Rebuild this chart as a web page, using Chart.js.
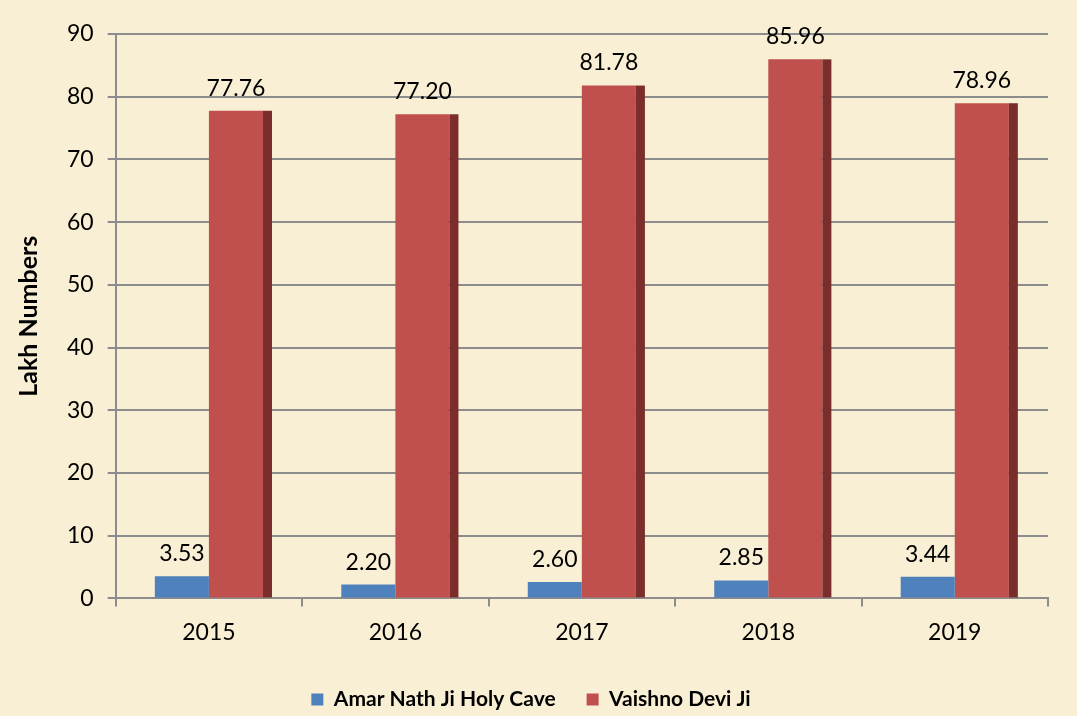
<!DOCTYPE html>
<html>
<head>
<meta charset="utf-8">
<script src="https://cdn.jsdelivr.net/npm/chart.js@4"></script>
<style>
  html, body { margin: 0; padding: 0; background: #f9efd4; }
  #wrap { width: 1077px; height: 716px; }
</style>
</head>
<body>
<div id="wrap"><canvas id="pilgrims"></canvas></div>
<script>
const years = ['2015', '2016', '2017', '2018', '2019'];
const amarNath = [3.53, 2.20, 2.60, 2.85, 3.44];
const vaishnoDevi = [77.76, 77.20, 81.78, 85.96, 78.96];
const yTicks = [0, 10, 20, 30, 40, 50, 60, 70, 80, 90];

const FONT = 'Lato, "Open Sans", sans-serif';

// dark right-hand face so the bars look like the old 3D excel columns,
// plus the value labels on top
const barExtras = {
  id: 'barExtras',
  afterDatasetsDraw(chart) {
    const ctx = chart.ctx;
    const redMeta = chart.getDatasetMeta(1);
    redMeta.data.forEach((bar) => {
      const right = bar.x + bar.width / 2;
      ctx.save();
      ctx.fillStyle = '#7b2d2c';
      ctx.fillRect(right, bar.y, 9, bar.base - bar.y);
      ctx.restore();
    });
    chart.data.datasets.forEach((ds, i) => {
      const meta = chart.getDatasetMeta(i);
      meta.data.forEach((bar, j) => {
        ctx.save();
        ctx.fillStyle = '#000';
        ctx.font = '23px ' + FONT;
        ctx.textAlign = 'center';
        ctx.textBaseline = 'bottom';
        ctx.fillText(ds.data[j].toFixed(2), bar.x, bar.y - 11);
        ctx.restore();
      });
    });
  }
};

new Chart(document.getElementById('pilgrims'), {
  type: 'bar',
  data: {
    labels: years,
    datasets: [{
      label: 'Amar Nath Ji Holy Cave',
      data: amarNath,
      backgroundColor: '#4f81bd'
    }, {
      label: 'Vaishno Devi Ji',
      data: vaishnoDevi,
      backgroundColor: '#c0504d'
    }]
  },
  options: {
    responsive: true,
    maintainAspectRatio: false,
    animation: false,
    layout: { padding: { left: 14, right: 29, top: 34, bottom: -4 } },
    datasets: {
      bar: { categoryPercentage: 0.58, barPercentage: 1 }
    },
    scales: {
      x: {
        grid: {
          offset: true,
          drawOnChartArea: false,
          drawTicks: true,
          tickLength: 8,
          color: '#8c8c8c',
          lineWidth: 2
        },
        border: { color: '#8c8c8c', width: 2 },
        ticks: { color: '#000', font: { family: FONT, size: 23 }, padding: 12 }
      },
      y: {
        min: 0,
        max: 90,
        afterBuildTicks(axis) {
          axis.ticks = yTicks.map(v => ({ value: v }));
        },
        grid: { color: '#8c8c8c', lineWidth: 2, tickLength: 8 },
        border: { color: '#8c8c8c', width: 2 },
        ticks: { color: '#000', font: { family: FONT, size: 23 }, padding: 14 },
        title: {
          display: true,
          text: 'Lakh Numbers',
          color: '#000',
          font: { family: FONT, size: 25, weight: 'bold' },
          padding: { top: 0, bottom: 9 }
        }
      }
    },
    plugins: {
      legend: {
        position: 'bottom',
        labels: {
          color: '#000',
          font: { family: FONT, size: 21, weight: 'bold' },
          boxWidth: 12,
          boxHeight: 12,
          padding: 31
        }
      },
      tooltip: { enabled: false }
    }
  },
  plugins: [barExtras]
});
</script>
</body>
</html>
